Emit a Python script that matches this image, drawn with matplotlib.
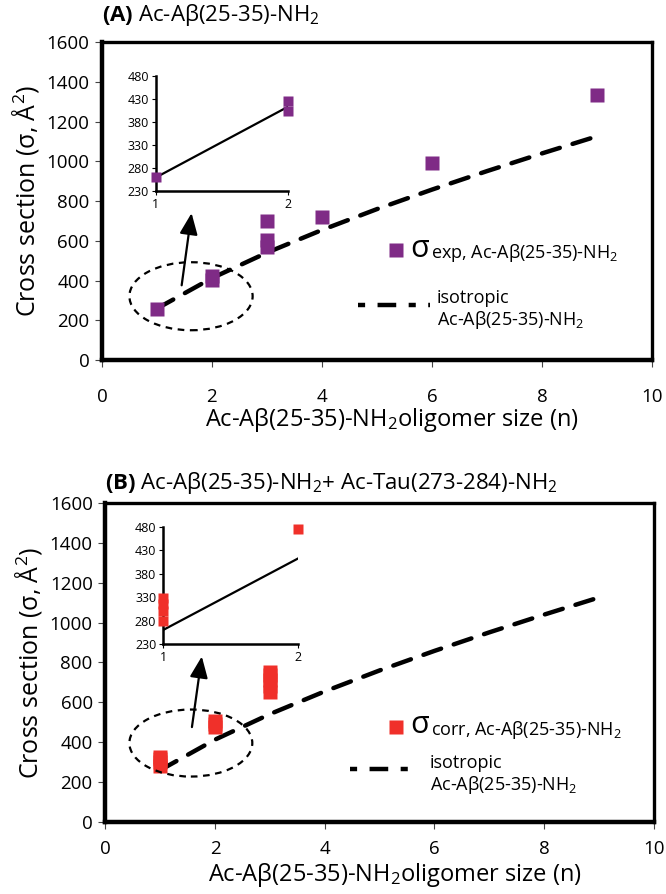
import numpy as np
import matplotlib.pyplot as plt
from matplotlib.patches import Ellipse

plt.rcParams['font.family'] = ['Open Sans', 'DejaVu Sans']
plt.rcParams['mathtext.fontset'] = 'custom'
plt.rcParams['mathtext.rm'] = 'Open Sans'
plt.rcParams['mathtext.it'] = 'Open Sans:italic'
plt.rcParams['mathtext.bf'] = 'Open Sans:bold'

# dane
n_a = [1, 2, 2, 3, 3, 3, 4, 6, 9]
sig_a = [260, 405, 425, 698, 603, 568, 720, 990, 1332]

n_b = [1, 1, 1, 1, 2, 2, 2, 3, 3, 3, 3, 3]
sig_b = [280, 300, 315, 328, 475, 490, 505, 650, 680, 710, 735, 752]

n_iso = [1, 2, 3, 4, 5, 6, 7, 8, 9]
sig_iso = [260, 413, 541, 655, 760, 858, 951, 1040, 1126]

xticks = [0, 2, 4, 6, 8, 10]
yticks = [0, 200, 400, 600, 800, 1000, 1200, 1400, 1600]
inset_yticks = [230, 280, 330, 380, 430, 480]

purple = '#7f2b86'
red = '#f0302a'
pep = 'Ac-A\u03b2(25-35)-NH$_2$'

fig = plt.figure(figsize=(6.66, 8.94), dpi=100)


def panel(rect, inset_rect, n, sig, color, letter, title_rest, title_y,
          sub, xpad, xlab_y, ell, arrow, leg):
    ax = fig.add_axes(rect)
    ax.plot(n_iso, sig_iso, color='black', lw=3.2, dashes=(4.2, 3.0),
            dash_capstyle='round', zorder=2)
    ax.plot(n, sig, 's', color=color, ms=10, mec='none', zorder=3)
    ax.set_xlim(0, 10)
    ax.set_ylim(0, 1600)
    ax.set_xticks(xticks)
    ax.set_yticks(yticks)
    ax.tick_params(labelsize=13.5, width=0.8, length=5, color='#444444', pad=4)
    ax.tick_params(axis='x', pad=xpad)
    for s in ['left', 'bottom']:
        ax.spines[s].set_linewidth(3.2)
    for s in ['top', 'right']:
        ax.spines[s].set_linewidth(2.4)
    ax.set_xlabel('Ac-A\u03b2(25-35)-NH$_2$oligomer size (n)', fontsize=17)
    ax.xaxis.set_label_coords(0.527, xlab_y)
    ax.set_ylabel('Cross section (\u03c3, \u00c5$^2$)', fontsize=18, labelpad=4)

    # elipsa i strzalka
    e = Ellipse(ell[0], ell[1], ell[2], fill=False, lw=1.6, ls=(0, (3, 2.5)),
                color='black', zorder=4)
    ax.add_patch(e)
    ax.annotate('', xy=arrow[1], xytext=arrow[0],
                arrowprops=dict(arrowstyle='-|>,head_length=1.3,head_width=0.55',
                                color='black', lw=1.6, shrinkA=0, shrinkB=0))

    # tytul
    ax.text(0.0, title_y, '$\\mathbf{(' + letter + ')}$ ' + title_rest,
            transform=ax.transAxes, fontsize=16, va='bottom', ha='left')

    # legenda
    lx, ly, dx, dy, tx, ty = leg
    ax.plot([lx], [ly], 's', color=color, ms=10, mec='none',
            transform=ax.transAxes, clip_on=False)
    ax.text(lx + 0.025, ly + 0.005, '\u03c3', transform=ax.transAxes,
            fontsize=22, va='center', ha='left')
    ax.text(lx + 0.063, ly - 0.045, sub + ', ' + pep, transform=ax.transAxes,
            fontsize=13, va='bottom', ha='left')
    ax.plot(dx, dy, color='black', lw=3.2, dashes=(1.6, 2.8, 4.2, 2.8),
            transform=ax.transAxes, clip_on=False)
    ax.text(tx, ty, 'isotropic\n' + pep, transform=ax.transAxes, fontsize=13,
            va='center', ha='left', linespacing=1.15)

    # wstawka (tylko punkty z zakresu wstawki)
    ni = [a for a, b in zip(n, sig) if a <= 2 and b <= 480]
    si = [b for a, b in zip(n, sig) if a <= 2 and b <= 480]
    ai = fig.add_axes(inset_rect)
    ai.plot([n_iso[0], n_iso[1]], [sig_iso[0], sig_iso[1]], color='black', lw=1.6)
    ai.plot(ni, si, 's', color=color, ms=6.5, mec='none', clip_on=False,
            zorder=3)
    ai.set_xlim(1, 2)
    ai.set_ylim(230, 480)
    ai.set_xticks([1, 2])
    ai.set_yticks(inset_yticks)
    ai.tick_params(labelsize=9, width=0.8, length=3, pad=2)
    ai.spines['top'].set_visible(False)
    ai.spines['right'].set_visible(False)
    ai.spines['left'].set_linewidth(1.8)
    ai.spines['bottom'].set_linewidth(1.8)
    ai.patch.set_alpha(0)
    return ax


panel([0.153, 0.597, 0.826, 0.356], [0.234, 0.786, 0.198, 0.129],
      n_a, sig_a, purple, 'A', pep, 1.045, 'exp', 15, -0.145,
      ((1.62, 322), 2.24, 342), ((1.45, 377), (1.63, 740)),
      (0.535, 0.346, [0.465, 0.596], [0.173, 0.173], 0.609, 0.158))

panel([0.158, 0.0805, 0.824, 0.357], [0.245, 0.2796, 0.203, 0.131],
      n_b, sig_b, red, 'B',
      pep + '+ Ac-Tau(273-284)-NH$_2$', 1.02, 'corr', 8, -0.122,
      ((1.56, 396), 2.24, 336), ((1.58, 476), (1.76, 830)),
      (0.53, 0.298, [0.446, 0.574], [0.166, 0.166], 0.592, 0.147))

fig.savefig('out.png', dpi=100)
